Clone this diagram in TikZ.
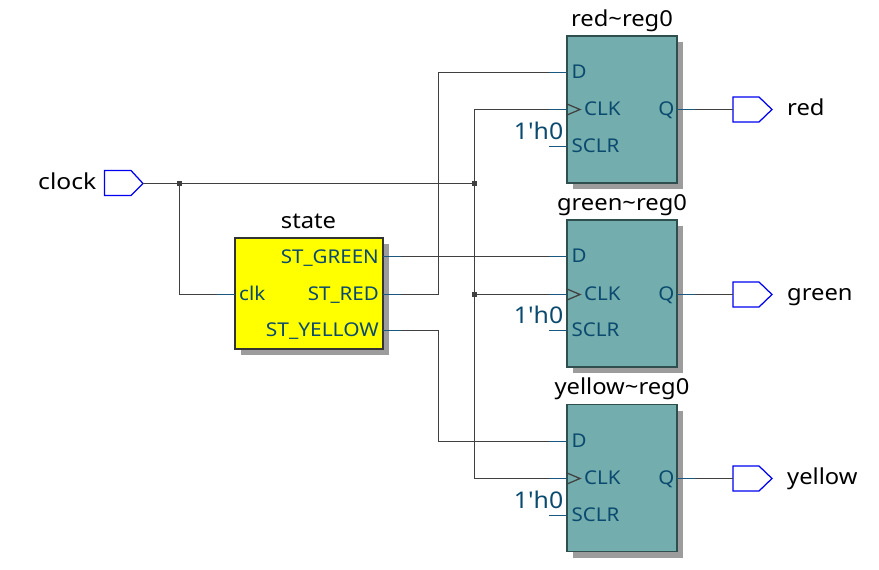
\documentclass[tikz,border=0pt]{standalone}
\usepackage{fontspec}
\setmainfont{Noto Sans}
\newfontfamily\labf[FakeStretch=1.08]{Noto Sans}
\newfontfamily\clockf[FakeStretch=1.12]{Noto Sans}
\usetikzlibrary{calc}
\definecolor{wire}{HTML}{404040}
\definecolor{stub}{HTML}{1A5880}
\definecolor{porttext}{HTML}{0B4A6F}
\definecolor{regfill}{HTML}{74ADAD}
\definecolor{shadowc}{HTML}{9C9C9C}
\definecolor{boxline}{HTML}{2F4F4F}
\definecolor{pinblue}{HTML}{0000F0}
\definecolor{fsmfill}{HTML}{FFFF00}
\tikzset{
  x=1pt,y=-1pt,
  wirel/.style={draw=wire,line width=1.25pt},
  stubl/.style={draw=stub,line width=1.25pt},
  regbox/.style={draw=boxline,line width=1.2pt,fill=regfill,minimum width=110pt,minimum height=147pt,inner sep=0pt,outer sep=0pt},
  fsmbox/.style={draw=black!80,line width=1.2pt,fill=fsmfill,minimum width=148pt,minimum height=111pt,inner sep=0pt,outer sep=0pt},
  title/.style={font=\labf\fontsize{22}{24}\selectfont,text=black,inner sep=0pt},
  port/.style={font=\labf\fontsize{19}{22}\selectfont,text=porttext,inner sep=0pt},
  const/.style={font=\labf\fontsize{23}{25}\selectfont,text=porttext,inner sep=0pt},
  junction/.style={fill=wire,draw=none,minimum size=5pt,inner sep=0pt,outer sep=0pt},
  pinl/.style={draw=pinblue,line width=1.25pt,fill=white,line join=miter},
}
\newcommand{\regblock}[6]{% name, top y, title, D y, C y, S y
  \fill[shadowc] (573,#2+6) rectangle (683,#2+153);
  \node[regbox,anchor=north west] (#1) at (567,#2) {};
  \node[title,anchor=base] (#1t) at (622,#2-10) {#3};
  \coordinate (#1D) at (567,#4);
  \coordinate (#1C) at (567,#5);
  \coordinate (#1S) at (567,#6);
  \coordinate (#1Q) at (677,#5);
  \node[port,anchor=base west] (#1dl) at (571.5,#4+6) {D};
  \node[port,anchor=base west] (#1cl) at (584,#5+6) {CLK};
  \node[port,anchor=base east] (#1ql) at (674.5,#5+6) {Q};
  \node[port,anchor=base west] (#1sl) at (571.5,#6+5.5) {SCLR};
  \node[const,anchor=base east] (#1k) at (563.5,#6-7) {1'h0};
  \coordinate (#1e) at (549,#6);
  \draw[stubl] (#1e) -- (#1S);
}
\newcommand{\outpin}[4]{% name, y, label, baseline
  \coordinate (#1) at (733,#2);
  \draw[pinl] (733,#2-12.5) -- (759,#2-12.5) -- (772,#2) -- (759,#2+12.5) -- (733,#2+12.5) -- cycle;
  \node[title,anchor=base west] (#1l) at (787,#4) {#3};
}
\begin{document}
\begin{tikzpicture}
\useasboundingbox (0,0) rectangle (879,570);
% registers
\regblock{r}{36}{red\char`\~reg0}{72.5}{109.5}{146.5}
\regblock{g}{220}{green\char`\~reg0}{256.5}{294.5}{330.5}
\regblock{y}{404.5}{yellow\char`\~reg0}{441.5}{478.5}{515.5}
% state block
\fill[shadowc] (241,244) rectangle (389,355);
\node[fsmbox,anchor=north west] (st) at (235,238) {};
\node[title,anchor=base] (stt) at (308.5,228) {state};
\coordinate (stG) at (383,256.5);
\coordinate (stR) at (383,294.5);
\coordinate (stY) at (383,330.5);
\coordinate (stC) at (235,294.5);
\node[port,anchor=base east] (l1) at (379,263) {ST\_GREEN};
\node[port,anchor=base east] (l2) at (379,300) {ST\_RED};
\node[port,anchor=base east] (l3) at (379,336.5) {\labf\addfontfeature{FakeStretch=1.1}ST\_YELLOW};
\node[port,anchor=base west] (l4) at (239,300) {clk};
% pins
\coordinate (clkpin) at (143,183.5);
\draw[pinl] (104.5,170.5) -- (131,170.5) -- (143,183.5) -- (131,195.5) -- (104.5,195.5) -- cycle;
\node[title,anchor=base east] (clkl) at (96.5,189) {\clockf clock};
\outpin{ored}{109.5}{red}{115.5}
\outpin{ogreen}{294.5}{green}{300.5}
\outpin{oyellow}{478.5}{yellow}{484.5}
% junctions
\coordinate (j1) at (179.5,183.5);
\coordinate (j2) at (474.5,183.5);
\coordinate (j3) at (474.5,294.5);
% wires
\draw[wirel] (clkpin) -- (j2);
\draw[wirel] (j1) |- (stC);
\draw[wirel] (j2) |- (rC);
\draw[wirel] (j2) |- (yC);
\draw[wirel] (j3) -- (gC);
\draw[wirel] (stG) -- (gD);
\draw[wirel] (stR) -- (438.5,294.5) |- (rD);
\draw[wirel] (stY) -- (438.5,330.5) |- (yD);
\draw[wirel] (rQ) -- (ored);
\draw[wirel] (gQ) -- (ogreen);
\draw[wirel] (yQ) -- (oyellow);
% blue stubs at ports
\foreach \a in {rD,rC,gD,gC,yD,yC}{\draw[stubl] ($(\a)+(-18,0)$) -- (\a);}
\foreach \a in {rQ,gQ,yQ,stG,stR,stY}{\draw[stubl] (\a) -- ($(\a)+(18,0)$);}
\draw[stubl] ($(stC)+(-18,0)$) -- (stC);
% clock triangles
\foreach \a in {rC,gC,yC}{\draw[wirel,line join=miter] ($(\a)+(0,-5.5)$) -- ($(\a)+(13,0)$) -- ($(\a)+(0,5.5)$);}
% junction dots
\node[junction] (d1) at (j1) {};
\node[junction] (d2) at (j2) {};
\node[junction] (d3) at (j3) {};
\end{tikzpicture}
\end{document}
